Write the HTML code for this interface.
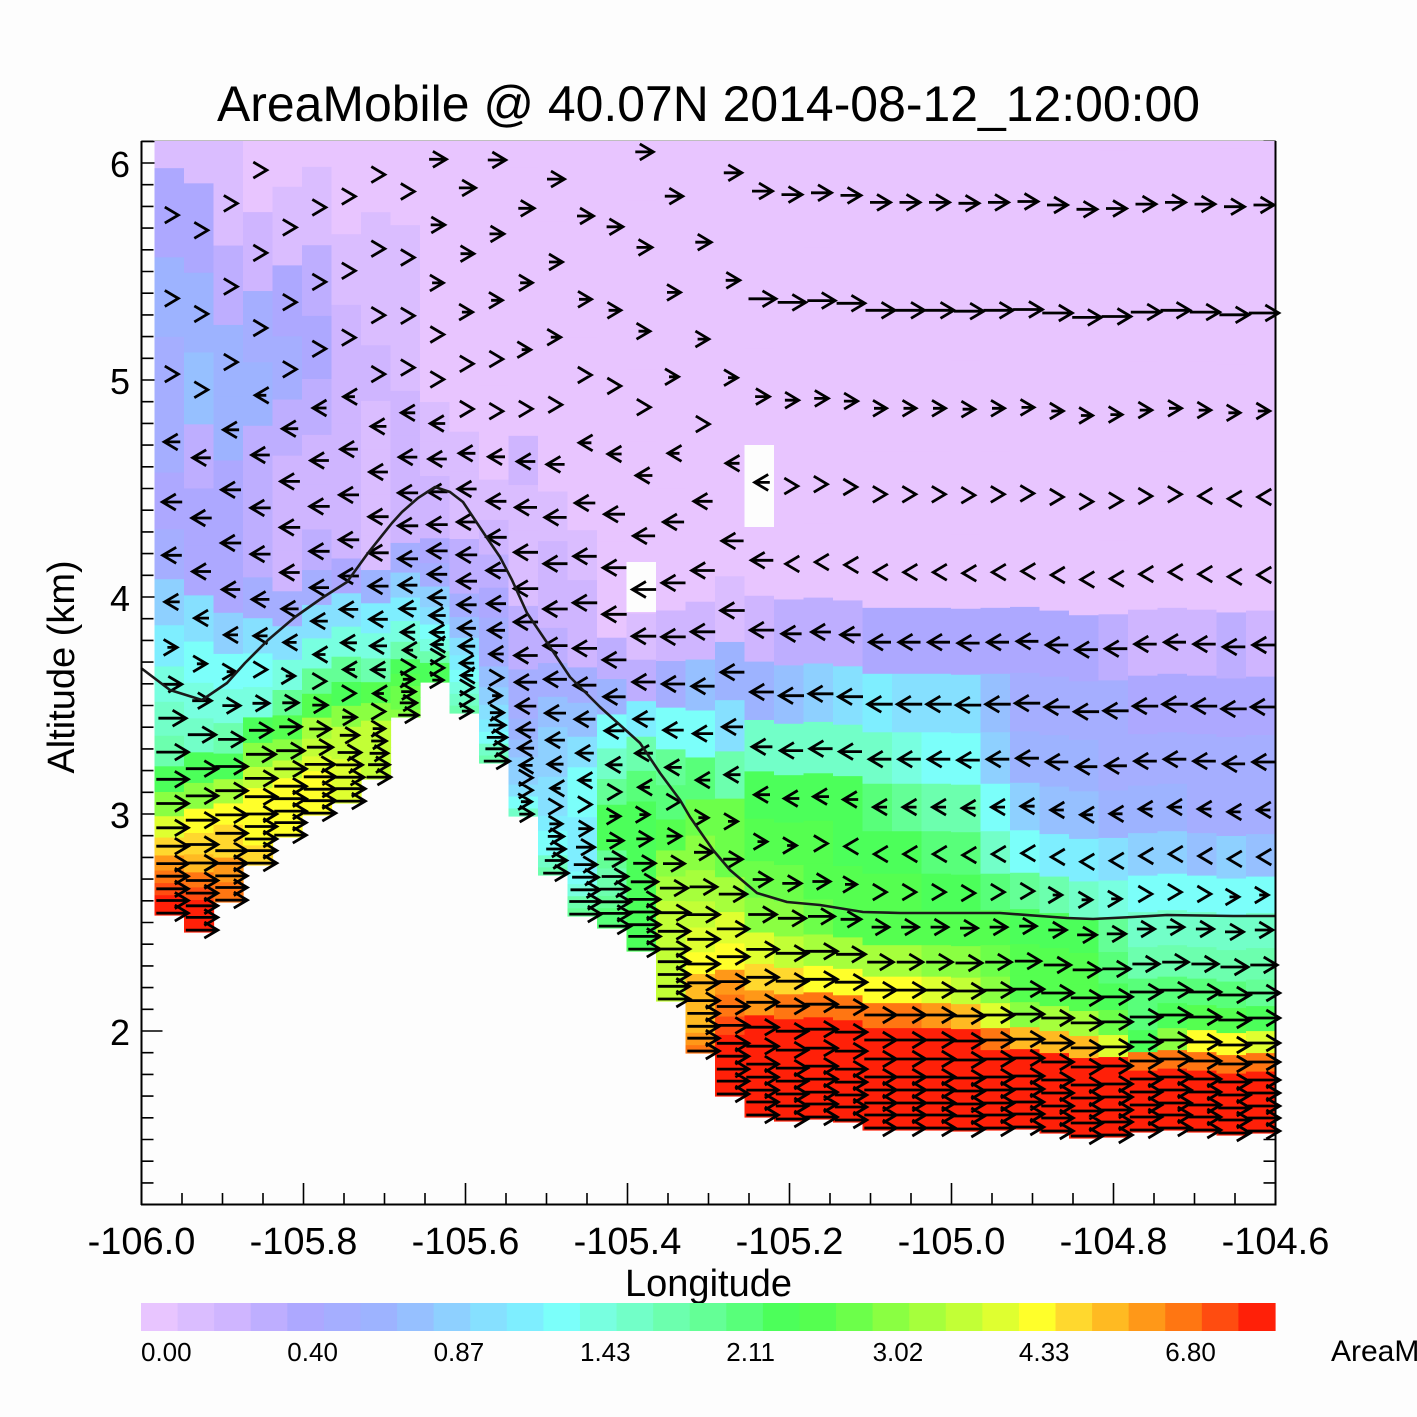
<!DOCTYPE html>
<html><head><meta charset="utf-8">
<style>
html,body{margin:0;padding:0;background:#fdfdfd;}
svg{display:block;}
text{font-family:"Liberation Sans",Arial,sans-serif;fill:#000;}
</style></head>
<body>
<svg id="s" width="1417" height="1417" viewBox="0 0 1417 1417" xmlns="http://www.w3.org/2000/svg">
<rect x="0" y="0" width="1417" height="1417" fill="#fdfdfd"/>
<path id="ticks" d="" stroke="#000" stroke-width="1.6" fill="none"/>
<line x1="141" y1="141.5" x2="1276" y2="141.5" stroke="#000" stroke-width="1.5"/>
<g id="cells"></g>
<rect x="744.5" y="445" width="29.5" height="82" fill="#fdfdfd"/>
<rect x="626.5" y="562" width="29.5" height="50" fill="#fdfdfd"/>
<path id="arrows" d="" stroke="#000" stroke-width="2.8" fill="none" stroke-linejoin="miter" stroke-linecap="butt"/>
<polyline fill="none" stroke="#1a1a1a" stroke-width="2.6" stroke-linejoin="round" points="141,668 170,690 202,700 227,683 245,663 268,640 295,617 322,598 347,582 368,553 392,523 402,512 418,498 435,487 450,492 463,502 475,520 485,535 500,557 512,580 527,613 550,647 570,677 600,707 640,743 660,773 680,800 690,817 713,850 730,870 757,893 787,902 820,905 863,912 900,913 1000,913 1067,918 1093,919 1133,917 1167,915 1233,916 1275,916"/>
<line x1="141.5" y1="141" x2="141.5" y2="1205" stroke="#000" stroke-width="2"/>
<line x1="141" y1="1204.5" x2="1276.5" y2="1204.5" stroke="#000" stroke-width="2"/>
<line x1="1275.5" y1="141" x2="1275.5" y2="1205" stroke="#000" stroke-width="2"/>

<text x="708.5" y="121" font-size="50" text-anchor="middle" textLength="983" lengthAdjust="spacingAndGlyphs">AreaMobile @ 40.07N 2014-08-12_12:00:00</text>

<g font-size="36" text-anchor="end">
<text x="130" y="177">6</text>
<text x="130" y="394">5</text>
<text x="130" y="611">4</text>
<text x="130" y="828">3</text>
<text x="130" y="1045">2</text>
</g>
<g font-size="38" text-anchor="middle">
<text x="141.5" y="1254">-106.0</text>
<text x="303.5" y="1254">-105.8</text>
<text x="465.5" y="1254">-105.6</text>
<text x="627.5" y="1254">-105.4</text>
<text x="789.5" y="1254">-105.2</text>
<text x="951.5" y="1254">-105.0</text>
<text x="1113.5" y="1254">-104.8</text>
<text x="1275.5" y="1254">-104.6</text>
</g>
<text x="708.5" y="1296" font-size="38" text-anchor="middle">Longitude</text>
<text transform="translate(74,667) rotate(-90)" font-size="38" text-anchor="middle">Altitude (km)</text>

<g id="cbar"></g>
<g font-size="26">
<text x="141" y="1361">0.00</text>
<text x="287.3" y="1361">0.40</text>
<text x="433.6" y="1361">0.87</text>
<text x="580" y="1361">1.43</text>
<text x="726.3" y="1361">2.11</text>
<text x="872.6" y="1361">3.02</text>
<text x="1018.9" y="1361">4.33</text>
<text x="1165.2" y="1361">6.80</text>
</g>
<text x="1331" y="1361" font-size="30">AreaMobile</text>
</svg>
<script>
(function(){
var NS="http://www.w3.org/2000/svg";
var C=["#E8C5FF","#DABDFF","#CFB5FF","#BEAEFF","#ADA8FF","#A5AEFF","#9DB3FF","#96C0FF","#8ED0FF","#86E0FF","#7EEEFF","#7BFFFA","#78FFE0","#72FFC8","#6CFFAE","#64FF96","#58FF7A","#4CFF5A","#55FF50","#6CFF4A","#8AFF42","#A6FF3C","#C2FF36","#DFFF30","#FFFF2A","#FFD82E","#FFBA22","#FF9818","#FF7612","#FF4C10","#FF2008"];
var TB=[915,932,902,865,837,815,803,779,717,682,713,763,816,875,916,928,951,1001,1053,1096,1117,1121,1119,1122,1130,1130,1130,1131,1130,1129,1133,1138,1137,1132,1130,1132,1135,1133];
var H=[2,15,27,40,53,71,90,115,140,168,203,238,276,323,371,426,488,558,636,722,820,928,1045,1170,1300];
var K={};
K[0]=[[141,1],[168,1],[172,4],[255,4],[262,6],[335,6],[340,5],[470,5],[480,4],[560,5],[585,7],[610,8],[640,10],[680,12],[720,13],[750,14],[775,17],[800,20],[825,23],[845,25],[865,27],[885,29],[905,30],[930,30]];
K[1]=[[141,1],[180,1],[190,4],[270,4],[280,6],[350,6],[360,7],[420,7],[430,4],[460,3],[540,4],[590,4],[610,8],[650,11],[690,12],[730,13],[760,16],[782,19],[800,21],[820,24],[845,25],[860,26],[875,28],[890,29],[905,30],[940,30]];
K[2]=[[141,1],[245,1],[250,3],[322,3],[330,6],[455,6],[465,4],[600,4],[625,8],[650,9],[670,11],[710,12],[740,14],[765,17],[790,21],[815,24],[845,25],[865,27],[890,28],[910,29]];
K[3]=[[141,0],[205,0],[215,2],[290,2],[295,5],[360,5],[370,6],[420,5],[430,3],[577,3],[600,5],[630,8],[650,10],[670,11],[700,12],[725,17],[750,19],[775,22],[800,24],[840,24],[860,25],[870,25]];
K[4]=[[141,0],[183,0],[188,1],[258,1],[268,4],[390,5],[400,3],[450,3],[460,2],[530,2],[545,3],[570,2],[590,4],[620,6],[640,9],[665,11],[690,13],[720,17],[745,19],[765,22],[790,24],[840,24]];
K[5]=[[141,0],[160,0],[168,1],[240,1],[250,3],[310,3],[320,4],[385,4],[395,3],[430,2],[540,2],[567,4],[600,6],[620,9],[650,12],[677,15],[700,18],[733,21],[760,23],[790,24],[815,24]];
K[6]=[[141,0],[228,0],[235,1],[300,1],[310,2],[370,3],[395,2],[540,2],[560,3],[580,4],[605,8],[640,12],[665,15],[695,17],[715,20],[740,22],[780,23],[810,23]];
K[7]=[[141,0],[205,0],[215,1],[340,1],[350,2],[395,2],[405,1],[560,1],[575,4],[600,8],[625,11],[665,12],[680,17],[700,19],[730,22],[780,22]];
K[8]=[[141,0],[220,0],[230,1],[390,1],[400,2],[530,2],[545,4],[580,7],[605,10],[635,12],[660,16],[690,19],[720,20]];
K[9]=[[141,0],[390,0],[400,1],[520,2],[545,4],[570,5],[590,7],[610,9],[635,11],[655,14],[670,17],[690,18]];
K[10]=[[141,0],[420,0],[440,1],[530,1],[540,3],[580,3],[600,5],[625,7],[650,9],[680,11],[700,13],[715,15]];
K[11]=[[141,0],[450,0],[470,1],[560,2],[600,4],[655,5],[680,7],[705,8],[730,10],[755,14],[770,14]];
K[12]=[[141,0],[430,0],[440,2],[470,2],[480,1],[590,1],[620,3],[660,3],[680,5],[720,5],[740,7],[780,8],[795,10],[810,13],[820,13]];
K[13]=[[141,0],[480,0],[500,1],[620,2],[645,3],[680,5],[715,7],[760,8],[790,9],[830,10],[855,12],[870,14]];
K[14]=[[141,0],[500,0],[520,1],[640,2],[670,4],[710,6],[745,9],[785,11],[800,12],[815,10],[855,10],[880,11],[900,14],[920,15]];
K[15]=[[141,0],[620,0],[640,2],[670,3],[700,7],[725,10],[745,12],[775,14],[800,16],[830,17],[850,16],[870,14],[890,14],[910,16],[930,16]];
K[16]=[[141,0],[610,0],[630,1],[660,2],[690,4],[710,9],[725,11],[750,14],[790,16],[820,17],[950,17]];
K[17]=[[141,0],[595,0],[610,1],[650,2],[675,4],[705,7],[730,11],[755,13],[775,16],[800,16],[830,18],[870,20],[900,22],[1005,22]];
K[18]=[[141,0],[575,0],[590,1],[640,2],[655,5],[690,7],[715,9],[735,11],[760,15],[790,17],[820,19],[860,20],[885,21],[910,22],[935,23],[955,24],[975,25],[990,26],[1030,26],[1055,28]];
K[19]=[[141,0],[570,0],[585,1],[635,1],[650,7],[690,6],[720,7],[735,12],[770,14],[790,16],[815,19],[860,19],[880,20],[905,21],[930,23],[955,24],[975,26],[1000,28],[1020,29],[1040,30],[1100,30]];
K[20]=[[141,0],[595,0],[610,2],[660,3],[680,6],[720,7],[735,12],[765,14],[785,17],[850,18],[880,19],[910,20],[940,22],[965,24],[985,25],[1000,27],[1012,29],[1025,30],[1120,30]];
K[23]=[[141,0],[600,0],[615,3],[665,4],[680,8],[700,10],[735,12],[765,14],[790,17],[900,18],[940,19],[960,22],[975,24],[990,25],[1000,27],[1012,29],[1025,30],[1130,30]];
K[27]=[[141,0],[600,0],[615,3],[655,4],[680,7],[710,9],[740,10],[775,11],[800,13],[830,15],[870,17],[930,18],[970,20],[995,23],[1010,25],[1025,28],[1040,30],[1135,30]];
K[29]=[[141,0],[595,0],[610,3],[655,4],[690,5],[740,6],[790,7],[830,9],[855,11],[885,15],[920,17],[990,18],[1015,20],[1035,25],[1048,29],[1060,30],[1135,30]];
K[31]=[[141,0],[585,0],[600,1],[625,3],[665,4],[700,5],[790,6],[830,7],[855,10],[895,13],[935,17],[1000,18],[1020,21],[1040,24],[1055,28],[1065,30],[1140,30]];
K[33]=[[141,0],[585,0],[600,1],[625,2],[660,3],[700,4],[740,5],[790,5],[840,7],[880,10],[910,12],[950,14],[1000,16],[1040,17],[1052,25],[1065,29],[1075,30],[1140,30]];
K[35]=[[141,0],[585,0],[600,1],[625,2],[660,3],[700,4],[740,5],[790,5],[840,6],[870,9],[900,11],[925,13],[960,14],[1000,16],[1020,18],[1035,22],[1050,27],[1065,29],[1080,30],[1140,30]];
K[37]=[[141,0],[588,0],[603,1],[628,2],[660,3],[700,4],[740,5],[790,5],[840,6],[880,10],[910,12],[940,13],[970,14],[1000,16],[1025,18],[1040,23],[1055,27],[1070,29],[1085,30],[1140,30]];
var keys=Object.keys(K).map(Number).sort(function(a,b){return a-b;});
function prof(p,y){
  if(y<=p[0][0])return p[0][1];
  for(var i=1;i<p.length;i++){
    if(y<=p[i][0]){var a=p[i-1],b=p[i];return a[1]+(b[1]-a[1])*(y-a[0])/(b[0]-a[0]);}
  }
  return p[p.length-1][1];
}
function field(c,y){
  var a=keys[0],b=keys[keys.length-1];
  for(var i=0;i<keys.length-1;i++){if(c>=keys[i]&&c<=keys[i+1]){a=keys[i];b=keys[i+1];break;}}
  var va=prof(K[a],y);
  if(a===b)return va;
  var vb=prof(K[b],y);
  var t=(c-a)/(b-a);
  return va+(vb-va)*t;
}
var YU=[410,395,395,390,390,390,390,390,392,395,410,412,415,420,435,440,445,448,450,450,460,490,530,530,530,530,530,530,530,530,530,520,520,520,520,480,480,480];
var YL=[625,641,652,654,656,662,677,697,652,653,685,675,775,790,790,790,792,795,795,800,820,825,828,855,875,875,875,875,875,875,875,875,875,875,875,875,875,875];
function ulen(c,y){
  var yu=YU[c],yl=YL[c];
  if(y<yu){
    if(c>=20){return prof([[141,20],[260,21],[313,30],[362,20],[411,12],[yu,4]],y);}
    if(c>=9){return 6+12*Math.min(1,Math.max(0,(yu-y)/250));}
    return 6;
  } else if(y<yl){
    if(c>=21){
      return -prof([[yu,4],[575,7],[645,22],[707,25],[762,22],[810,13],[857,7],[yl,4]],y);
    }
    var f=(y-yu)/(yl-yu);var amp=c>=12?16:12;
    return -(8+amp*Math.pow(Math.max(0,Math.sin(Math.PI*f)),0.5));
  } else {
    return Math.min(32,4+28*Math.min(1,(y-yl)/110));
  }
}
var cg=document.getElementById("cells");
var ad="";
for(var c=0;c<38;c++){
  var x0=154.5+29.5*c, x1=Math.min(1275,x0+29.5);
  var yb=TB[c];
  var s=(yb+6000)/7133;
  var yc=[];
  for(var k=0;k<H.length;k++)yc.push(yb-H[k]*s);
  for(var k=0;k<H.length;k++){
    var bot=(k===0)?yb:(yc[k-1]+yc[k])/2;
    var top=(k===H.length-1)?yc[k]-100:(yc[k]+yc[k+1])/2;
    if(bot<=141)break;
    if(top<141)top=141;
    var ym=(bot+top)/2;
    var v=Math.round(field(c,ym));
    if(v<0)v=0;if(v>30)v=30;
    var r=document.createElementNS(NS,"rect");
    r.setAttribute("x",x0.toFixed(2));
    r.setAttribute("y",top.toFixed(2));
    r.setAttribute("width",(x1-x0+0.6).toFixed(2));
    r.setAttribute("height",(bot-top+0.6).toFixed(2));
    r.setAttribute("fill",C[v]);
    cg.appendChild(r);
  }
  var cx=x0+14.75+3;
  for(var k=0;k<H.length;k++){
    var cy=yc[k];
    if(cy<146)break;
    var L=ulen(c,cy);
    var sg=L>=0?1:-1, a=Math.abs(L);
    var tip=cx+sg*a/2, tail=cx-sg*a/2;
    if(a>=9){ad+="M"+tail.toFixed(1)+" "+cy.toFixed(1)+"H"+tip.toFixed(1);}
    else{tip=cx+sg*6;}
    ad+="M"+(tip-sg*13.5).toFixed(1)+" "+(cy-8).toFixed(1)+"L"+tip.toFixed(1)+" "+cy.toFixed(1)+"L"+(tip-sg*13.5).toFixed(1)+" "+(cy+8).toFixed(1);
  }
}
document.getElementById("arrows").setAttribute("d",ad);
var td="";
for(var v=13;v<=61;v++){
  var y=163+(6-v/10)*217;
  if(y<141||y>1205)continue;
  var len=(v%10===0)?21:12;
  td+="M141.5 "+y.toFixed(1)+"h"+len+"M1275.5 "+y.toFixed(1)+"h-"+len;
}
for(var j=0;j<=28;j++){
  var x=141.5+j*40.5;
  var len=(j%4===0)?21:11;
  td+="M"+x.toFixed(1)+" 1204v-"+len;
}
document.getElementById("ticks").setAttribute("d",td);
var cb=document.getElementById("cbar");
var w=1134/31;
for(var i=0;i<31;i++){
  var r=document.createElementNS(NS,"rect");
  r.setAttribute("x",(141+i*w).toFixed(2));
  r.setAttribute("y","1303");
  r.setAttribute("width",(w+0.6).toFixed(2));
  r.setAttribute("height","28");
  r.setAttribute("fill",C[i]);
  cb.appendChild(r);
}
})();
</script>
</body></html>
